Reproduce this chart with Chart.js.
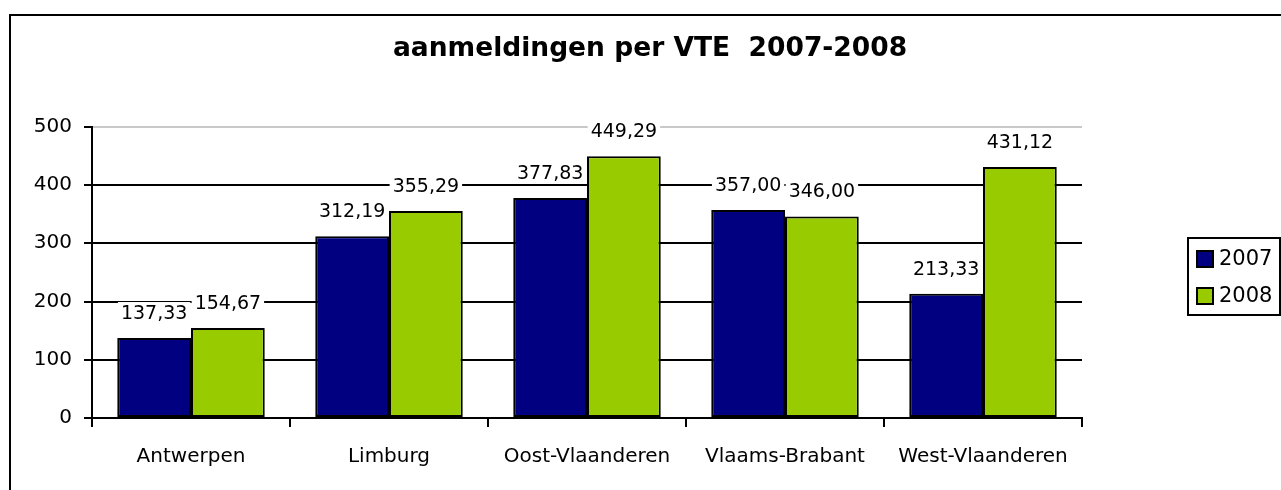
<!DOCTYPE html>
<html><head><meta charset="utf-8">
<script src="https://cdn.jsdelivr.net/npm/chart.js@4/dist/chart.umd.min.js"></script>
<style>html,body{margin:0;padding:0;background:#fff;overflow:hidden}#wrap{position:relative;width:1281px;height:490px}</style>
</head><body><div id="wrap"><canvas id="c" width="1281" height="490"></canvas></div>
<script>
const categories = ['Antwerpen', 'Limburg', 'Oost-Vlaanderen', 'Vlaams-Brabant', 'West-Vlaanderen'];
const series2007 = [137.33, 312.19, 377.83, 357.00, 213.33];
const series2008 = [154.67, 355.29, 449.29, 346.00, 431.12];
const seriesNames = ['2007', '2008'];
const yMin = 0, yMax = 500, yStep = 100;
const titleText = 'aanmeldingen per VTE  2007-2008';

const FONT = "'DejaVu Sans', Verdana, sans-serif";
const COLORS = ['#000080', '#99CC00'];
function fmt(v) { return v.toFixed(2).replace('.', ','); }

const framePlugin = {
  id: 'frame',
  beforeDraw(chart) {
    const ctx = chart.ctx;
    ctx.save();
    ctx.fillStyle = '#fff';
    ctx.fillRect(0, 0, chart.width, chart.height);
    ctx.strokeStyle = '#000';
    ctx.lineWidth = 2;
    ctx.strokeRect(10, 15, chart.width + 50, chart.height + 50);
    ctx.restore();
  }
};

const labelPlugin = {
  id: 'barLabels',
  afterDatasetsDraw(chart) {
    const ctx = chart.ctx;
    ctx.save();
    ctx.font = '19px ' + FONT;
    ctx.textAlign = 'center';
    ctx.textBaseline = 'middle';
    chart.data.datasets.forEach((ds, i) => {
      const meta = chart.getDatasetMeta(i);
      meta.data.forEach((bar, j) => {
        const txt = fmt(ds.data[j]);
        const w = ctx.measureText(txt).width;
        const cy = bar.y - 25;
        ctx.fillStyle = '#fff';
        ctx.fillRect(bar.x - w / 2 - 3, cy - 11, w + 6, 22);
        ctx.fillStyle = '#000';
        ctx.fillText(txt, bar.x, cy + 1);
      });
    });
    ctx.restore();
  }
};

const legendPlugin = {
  id: 'boxLegend',
  afterDraw(chart) {
    const ctx = chart.ctx;
    ctx.save();
    ctx.strokeStyle = '#000';
    ctx.lineWidth = 2;
    ctx.strokeRect(1188, 238, 92, 77);
    ctx.font = '21px ' + FONT;
    ctx.textAlign = 'left';
    ctx.textBaseline = 'middle';
    const ys = [259, 296];
    chart.data.datasets.forEach((ds, i) => {
      const y = ys[i];
      ctx.fillStyle = ds.backgroundColor;
      ctx.fillRect(1197, y - 8, 16, 16);
      ctx.lineWidth = 2;
      ctx.strokeRect(1197, y - 8, 16, 16);
      ctx.fillStyle = '#000';
      ctx.fillText(ds.label, 1219, y + 1);
    });
    ctx.restore();
  }
};

new Chart(document.getElementById('c'), {
  type: 'bar',
  data: {
    labels: categories,
    datasets: [
      { label: seriesNames[0], data: series2007, backgroundColor: COLORS[0], borderColor: '#000', borderWidth: 2, borderSkipped: false, yAxisID: 'y', categoryPercentage: 0.745, barPercentage: 1 },
      { label: seriesNames[1], data: series2008, backgroundColor: COLORS[1], borderColor: '#000', borderWidth: 2, borderSkipped: false, yAxisID: 'y', categoryPercentage: 0.745, barPercentage: 1 }
    ]
  },
  options: {
    responsive: false,
    animation: false,
    layout: { padding: { left: 19, right: 0, top: 0, bottom: 0 } },
    plugins: {
      legend: { display: false },
      tooltip: { enabled: false },
      title: {
        display: true, text: titleText, color: '#000',
        font: { family: FONT, size: 26.5, weight: 'bold' },
        padding: { top: 33, bottom: 62 }
      }
    },
    scales: {
      x: {
        grid: { display: true, drawOnChartArea: false, drawTicks: true, tickLength: 9, color: '#000', lineWidth: 2, offset: true },
        border: { display: true, color: '#000', width: 2 },
        ticks: { color: '#000', font: { family: FONT, size: 20 }, padding: 18, maxRotation: 0 },
        afterFit(s) { s.height = 72; }
      },
      y: {
        min: yMin, max: yMax,
        grid: {
          color: (c) => (c.tick && c.tick.value === yMax) ? '#c8c8c8' : '#000',
          tickColor: '#000', lineWidth: 2, tickLength: 8
        },
        border: { display: true, color: '#000', width: 2 },
        ticks: { stepSize: yStep, color: '#000', font: { family: FONT, size: 20 }, padding: 12 },
        afterFit(s) { s.width = 73; }
      },
      y2: {
        position: 'right', display: true,
        grid: { display: false }, border: { display: false }, ticks: { display: false },
        afterFit(s) { s.width = 199; }
      }
    }
  },
  plugins: [framePlugin, labelPlugin, legendPlugin]
});
</script></body></html>
